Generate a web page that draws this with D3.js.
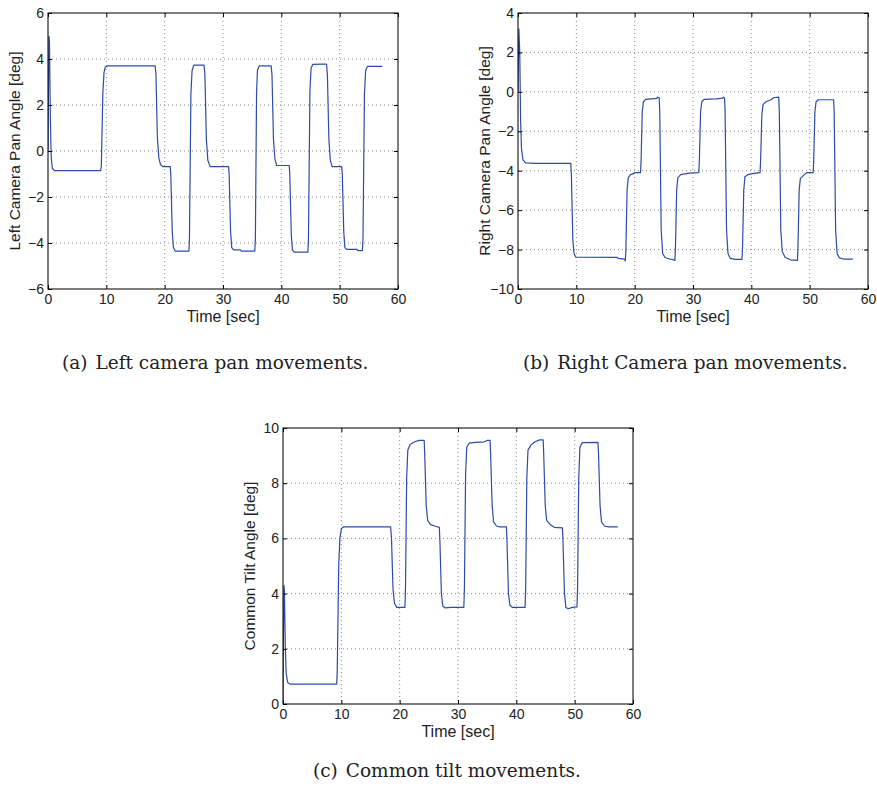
<html>
 <head>
  <title>Camera movements</title>
  <script src="https://d3js.org/d3.v7.min.js"></script>
  <style>
   body{margin:0;background:#fff;}
  </style>
 </head>
 <body>
  <svg></svg>
  <script>
   var svgWidth=877,svgHeight=789;

   // time [sec], angle [deg]
   var leftPan=[[0,0],[0.15,5.0],[0.25,4.8],[0.4,1.5],[0.55,-0.3],[0.75,-0.75],[1.1,-0.85],
     [9.05,-0.85],[9.15,-0.6],[9.4,2.5],[9.6,3.4],[9.8,3.65],[10.2,3.7],
     [18.35,3.7],[18.5,3.4],[18.75,0.6],[19.0,-0.3],[19.3,-0.6],[19.7,-0.68],
     [20.95,-0.68],[21.05,-1.0],[21.3,-3.5],[21.5,-4.2],[21.8,-4.35],
     [24.15,-4.35],[24.25,-3.8],[24.5,2.5],[24.7,3.5],[25.0,3.73],
     [26.75,3.73],[26.9,3.3],[27.15,0.5],[27.4,-0.4],[27.8,-0.68],
     [30.95,-0.68],[31.05,-1.0],[31.3,-3.5],[31.5,-4.2],[31.8,-4.3],[33.0,-4.3],[33.1,-4.35],
     [35.45,-4.35],[35.55,-3.8],[35.75,2.5],[35.9,3.5],[36.2,3.7],
     [38.25,3.7],[38.4,3.3],[38.65,0.5],[38.9,-0.35],[39.2,-0.63],
     [41.35,-0.63],[41.45,-1.0],[41.7,-3.6],[41.9,-4.3],[42.2,-4.4],
     [44.55,-4.4],[44.65,-3.8],[44.9,2.6],[45.1,3.6],[45.4,3.77],[47.0,3.78],
     [47.75,3.78],[47.9,3.3],[48.15,0.5],[48.4,-0.4],[48.7,-0.68],
     [50.35,-0.68],[50.45,-1.0],[50.7,-3.5],[50.9,-4.2],[51.2,-4.28],[53.0,-4.28],[53.1,-4.33],
     [53.9,-4.33],[54.0,-3.8],[54.25,2.5],[54.45,3.5],[54.75,3.68],[57.3,3.68]];

   var rightPan=[[0,0],[0.15,3.2],[0.3,2.0],[0.45,-1.5],[0.6,-2.9],[0.85,-3.45],[1.3,-3.6],[3,-3.63],
     [9.05,-3.63],[9.15,-4.2],[9.4,-7.5],[9.6,-8.2],[9.9,-8.38],
     [17.0,-8.4],[17.2,-8.45],[18.3,-8.48],[18.4,-8.58],
     [18.5,-8.0],[18.7,-5.0],[18.9,-4.35],[19.3,-4.2],[19.8,-4.15],[20.0,-4.1],
     [21.0,-4.1],[21.1,-3.5],[21.3,-1.0],[21.5,-0.5],[21.9,-0.38],[23.8,-0.33],[23.9,-0.27],[24.2,-0.3],
     [24.3,-1.0],[24.55,-7.0],[24.8,-8.2],[25.2,-8.4],[26.0,-8.48],[26.5,-8.5],[26.9,-8.55],
     [27.0,-7.8],[27.2,-5.0],[27.4,-4.35],[27.9,-4.2],[29.3,-4.12],[31.0,-4.1],
     [31.1,-3.4],[31.3,-1.0],[31.5,-0.5],[31.9,-0.38],[34.0,-0.36],[35.1,-0.32],[35.2,-0.27],[35.4,-0.3],
     [35.5,-1.0],[35.75,-7.0],[36.0,-8.2],[36.4,-8.45],[37.2,-8.5],[38.4,-8.5],
     [38.5,-7.8],[38.7,-5.0],[38.9,-4.3],[39.4,-4.2],[40.2,-4.15],[41.5,-4.1],
     [41.6,-3.4],[41.8,-1.2],[42.0,-0.65],[42.5,-0.5],[43.4,-0.4],[43.8,-0.3],[44.7,-0.27],
     [44.8,-1.0],[45.05,-7.0],[45.3,-8.1],[45.8,-8.4],[46.7,-8.52],[47.9,-8.55],
     [48.0,-7.8],[48.2,-5.0],[48.4,-4.4],[48.9,-4.25],[49.5,-4.1],[50.6,-4.1],
     [50.7,-3.4],[50.9,-1.0],[51.1,-0.5],[51.5,-0.4],[54.1,-0.4],
     [54.2,-1.0],[54.45,-7.0],[54.7,-8.2],[55.1,-8.42],[55.8,-8.48],[57.4,-8.48]];

   var commonTilt=[[0,0],[0.15,4.3],[0.25,4.1],[0.4,2.0],[0.55,1.1],[0.8,0.78],[1.2,0.72],
     [9.2,0.72],[9.3,1.2],[9.55,5.0],[9.75,6.0],[10.0,6.35],[10.4,6.42],
     [18.45,6.42],[18.6,6.0],[18.85,4.2],[19.1,3.65],[19.5,3.5],[20.9,3.5],
     [21.0,4.2],[21.2,8.2],[21.4,9.2],[21.8,9.4],[22.6,9.5],[23.3,9.55],[24.2,9.55],
     [24.3,9.0],[24.55,7.2],[24.8,6.65],[25.3,6.5],[26.0,6.45],[26.8,6.4],
     [26.9,5.9],[27.15,4.0],[27.4,3.55],[27.8,3.48],[28.8,3.5],[31.0,3.5],
     [31.1,4.2],[31.3,8.3],[31.5,9.3],[31.9,9.45],[33.0,9.48],[34.5,9.5],[35.0,9.55],[35.5,9.55],
     [35.6,9.0],[35.85,7.2],[36.1,6.6],[36.6,6.45],[37.0,6.42],[38.3,6.42],
     [38.4,5.9],[38.65,4.0],[38.9,3.58],[39.3,3.5],[41.5,3.5],
     [41.6,4.2],[41.8,8.2],[42.0,9.2],[42.5,9.38],[43.2,9.5],[44.0,9.57],[44.6,9.57],
     [44.7,9.0],[44.95,7.2],[45.2,6.65],[45.8,6.5],[46.5,6.4],[47.9,6.38],
     [48.0,5.9],[48.25,4.0],[48.5,3.5],[48.9,3.45],[49.6,3.5],[50.4,3.52],
     [50.5,4.2],[50.7,8.2],[50.9,9.3],[51.3,9.47],[54.0,9.48],
     [54.1,9.0],[54.35,7.2],[54.6,6.6],[55.1,6.45],[55.8,6.42],[57.4,6.42]];

   var timeTicks=[0,10,20,30,40,50,60];
   var leftTicks=[-6,-4,-2,0,2,4,6];
   var rightTicks=[-10,-8,-6,-4,-2,0,2,4];
   var tiltTicks=[0,2,4,6,8,10];

   var svg=d3.select("svg").attr("width",svgWidth).attr("height",svgHeight);
   var sans="'Liberation Sans', Arial, Helvetica, sans-serif";

   function panel(data,yTicks,ylabel,left,top,w,h){
     var x=d3.scaleLinear().domain([0,60]).range([0,w]);
     var y=d3.scaleLinear().domain(d3.extent(yTicks)).range([h,0]);
     var g=svg.append("g").attr("transform","translate("+left+","+top+")");

     // dotted grid
     g.append("g").selectAll("line").data(timeTicks.slice(1,-1)).enter().append("line")
       .attr("x1",x).attr("x2",x).attr("y1",0).attr("y2",h);
     g.append("g").selectAll("line").data(yTicks.slice(1,-1)).enter().append("line")
       .attr("y1",y).attr("y2",y).attr("x1",0).attr("x2",w);
     g.selectAll("line").attr("stroke","#8a8a8a").attr("stroke-width",1).attr("stroke-dasharray","1,3");

     var clip="clip"+left;
     g.append("clipPath").attr("id",clip).append("rect").attr("width",w).attr("height",h);
     g.append("path").datum(data).attr("clip-path","url(#"+clip+")")
       .attr("fill","none").attr("stroke","#2c4ca8").attr("stroke-width",1.2)
       .attr("stroke-linejoin","round")
       .attr("d",d3.line().x(function(d){return x(d[0]);}).y(function(d){return y(d[1]);}));

     var fmt=d3.format("");
     g.append("g").attr("transform","translate(0,"+h+")")
       .call(d3.axisBottom(x).tickValues(timeTicks).tickFormat(fmt).tickSize(-4).tickPadding(5));
     var yl=g.append("g").call(d3.axisLeft(y).tickValues(yTicks).tickFormat(fmt).tickSize(-4).tickPadding(4));
     g.append("g").call(d3.axisTop(x).tickValues(timeTicks).tickFormat("").tickSize(-4));
     g.append("g").attr("transform","translate("+w+",0)")
       .call(d3.axisRight(y).tickValues(yTicks).tickFormat("").tickSize(-4));
     g.selectAll(".domain").remove();
     g.selectAll(".tick line").attr("stroke","#000");
     g.selectAll(".tick text").attr("font-family",sans).attr("font-size","14px").attr("fill","#222");
     yl.selectAll(".tick text").text(function(d){return d<0?"\u2212"+(-d):d;});

     g.append("rect").attr("width",w).attr("height",h).attr("fill","none")
       .attr("stroke","#111").attr("stroke-width",1.1);

     g.append("text").attr("x",w/2).attr("y",h+33).attr("text-anchor","middle")
       .attr("font-family",sans).attr("font-size","16px").attr("fill","#222").text("Time [sec]");
     g.append("text").attr("transform","translate(-28,"+(h/2)+") rotate(-90)")
       .attr("text-anchor","middle").attr("font-family",sans).attr("font-size","15.5px")
       .attr("fill","#222").text(ylabel);
   }

   panel(leftPan,leftTicks,"Left Camera Pan Angle [deg]",48,13,350,276);
   panel(rightPan,rightTicks,"Right Camera Pan Angle [deg]",518,13,350,276);
   panel(commonTilt,tiltTicks,"Common Tilt Angle [deg]",283,428,350,276);

   var serif="'DejaVu Serif', 'Liberation Serif', serif";
   function caption(tag,label,x,y){
     var t=svg.append("text").attr("x",x).attr("y",y).attr("font-family",serif)
       .attr("font-size","18.5px").attr("fill","#222");
     t.append("tspan").text(tag);
     t.append("tspan").attr("dx",8).text(label);
   }
   caption("(a)","Left camera pan movements.",62,369);
   caption("(b)","Right Camera pan movements.",523,369);
   caption("(c)","Common tilt movements.",313,777);
  </script>
 </body>
</html>
